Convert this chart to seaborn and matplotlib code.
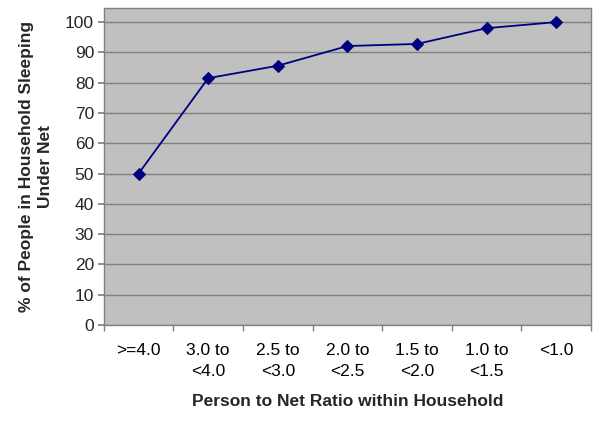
import numpy as np
import pandas as pd
import seaborn as sns
import matplotlib
matplotlib.use("Agg")
import matplotlib.pyplot as plt
from matplotlib.ticker import FixedLocator

# --- Data ---
categories = [">=4.0", "3.0 to\n<4.0", "2.5 to\n<3.0", "2.0 to\n<2.5",
              "1.5 to\n<2.0", "1.0 to\n<1.5", "<1.0"]
pct_under_net = [50.0, 81.5, 85.6, 92.1, 92.8, 98.0, 100.0]
y_ticks = [0, 10, 20, 30, 40, 50, 60, 70, 80, 90, 100]

df = pd.DataFrame({"ratio": categories, "pct": pct_under_net})
df["pos"] = np.arange(len(categories))

# --- Style ---
sns.set_theme(style="white")
plt.rcParams['font.family'] = ['Liberation Sans', 'DejaVu Sans']

fig, ax = plt.subplots(figsize=(6.0, 4.21), dpi=100)
fig.subplots_adjust(left=0.173, right=0.985, top=0.982, bottom=0.228)

ax.set_facecolor("#C0C0C0")
ax.yaxis.grid(True, color="#808080", linewidth=1.0)
ax.set_axisbelow(True)

sns.lineplot(data=df, x="pos", y="pct", ax=ax, color="#000080",
             linewidth=1.3, marker="D", markersize=6,
             markeredgecolor="#000080", markerfacecolor="#000080")

n = len(categories)
ax.set_xlim(-0.5, n - 0.5)
ax.set_ylim(0, 104.8)
ax.set_yticks(y_ticks)
ax.set_xticks(df["pos"])
ax.set_xticklabels(categories, linespacing=1.5)
ax.xaxis.set_minor_locator(FixedLocator(np.arange(-0.5, n, 1.0)))

ax.tick_params(axis="x", which="major", length=0, pad=13, labelsize=12.5,
               colors="black")
ax.tick_params(axis="x", which="minor", length=4, color="#808080",
               direction="out", bottom=True)
ax.tick_params(axis="y", length=4, color="#808080", direction="out",
               left=True, labelsize=12.5, pad=3)

for side, sp in ax.spines.items():
    sp.set_color("#808080")
    sp.set_linewidth(1.0)

ax.set_xlabel("Person to Net Ratio within Household", fontsize=12.5,
              fontweight="bold", labelpad=11)
ax.set_ylabel("% of People in Household Sleeping\nUnder Net", fontsize=12.5,
              fontweight="bold", labelpad=9, linespacing=1.3)

fig.savefig("out.png", dpi=100)
